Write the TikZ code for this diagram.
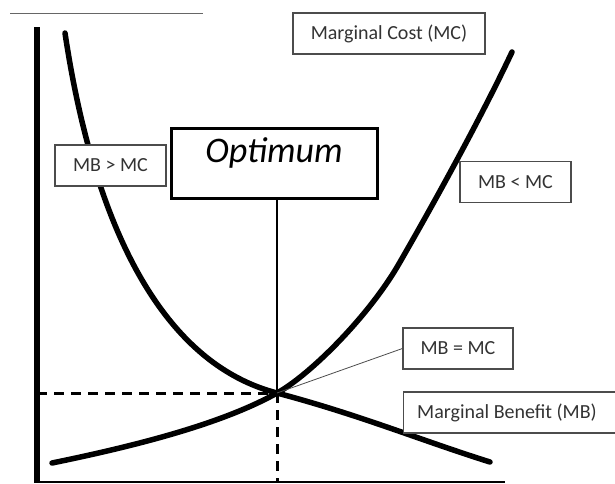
\documentclass[tikz,border=0pt]{standalone}
\usepackage{fontspec}
\setmainfont{Carlito}
\usetikzlibrary{positioning}
\tikzset{
	labelbox/.style={draw=black!70, line width=1.2pt, fill=white, text=black!80, font=\fontsize{20}{22}\selectfont, inner sep=0pt, minimum height=41pt},
	curve/.style={line width=5.5pt, line cap=round},
	guide/.style={line width=3pt, dash pattern=on 10pt off 7pt},
}
\begin{document}
\begin{tikzpicture}[x=1pt,y=-1pt]
		\useasboundingbox (0,0) rectangle (615,483);
		\clip (0,0) rectangle (615,483);
		\draw[black!60, line width=1pt] (10,13) -- (203,13);
		\coordinate (opt) at (277,393);
		\coordinate (ytop) at (37,27);
		\coordinate (ybot) at (37,483);
		\coordinate (xend) at (505,482);
		\coordinate (xbot) at (277,483);
		\draw[line width=6pt] (ytop) -- (ybot);
		\draw[line width=2pt] (35,482) -- (xend);
		\draw[guide] (37,393) -- (opt);
		\draw[guide] (opt) -- (xbot);
		\draw[curve] (65,33) .. controls (90,200) and (150,360) .. (opt)
			.. controls (360,415) and (420,440) .. (490,462);
		\draw[curve] (52,463) .. controls (130,447) and (220,425) .. (opt)
			.. controls (310,375) and (370,315) .. (400,262)
			.. controls (430,210) and (480,120) .. (512,52);
		\node[draw, line width=3pt, fill=white, inner sep=0pt, minimum width=206pt, text height=34pt, text depth=36pt, font=\fontsize{36}{40}\selectfont\itshape] (optbox) at (274,163) {Optimum};
		\draw[line width=2.5pt] (optbox.south -| opt) -- (opt);
		\node[labelbox, minimum width=192pt] (mccurve) at (389,33.5) {Marginal Cost (MC)};
		\node[labelbox, minimum width=111pt] (mbgt) at (110.5,165.5) {MB > MC};
		\node[labelbox, minimum width=111pt] (mblt) at (515.5,182) {MB < MC};
		\node[labelbox, minimum width=110pt] (mbeq) at (458,348.5) {MB = MC};
		\node[labelbox, anchor=west, minimum width=230pt] (mbbox) at (403,412.5) {};
		\node[text=black!80, font=\fontsize{20}{22}\selectfont, anchor=west, inner sep=0pt] (mbcurve) at (417,412.5) {Marginal Benefit (MB)};
		\draw[black!70, line width=0.8pt] (mbeq.west) -- (opt);
\end{tikzpicture}
\end{document}
